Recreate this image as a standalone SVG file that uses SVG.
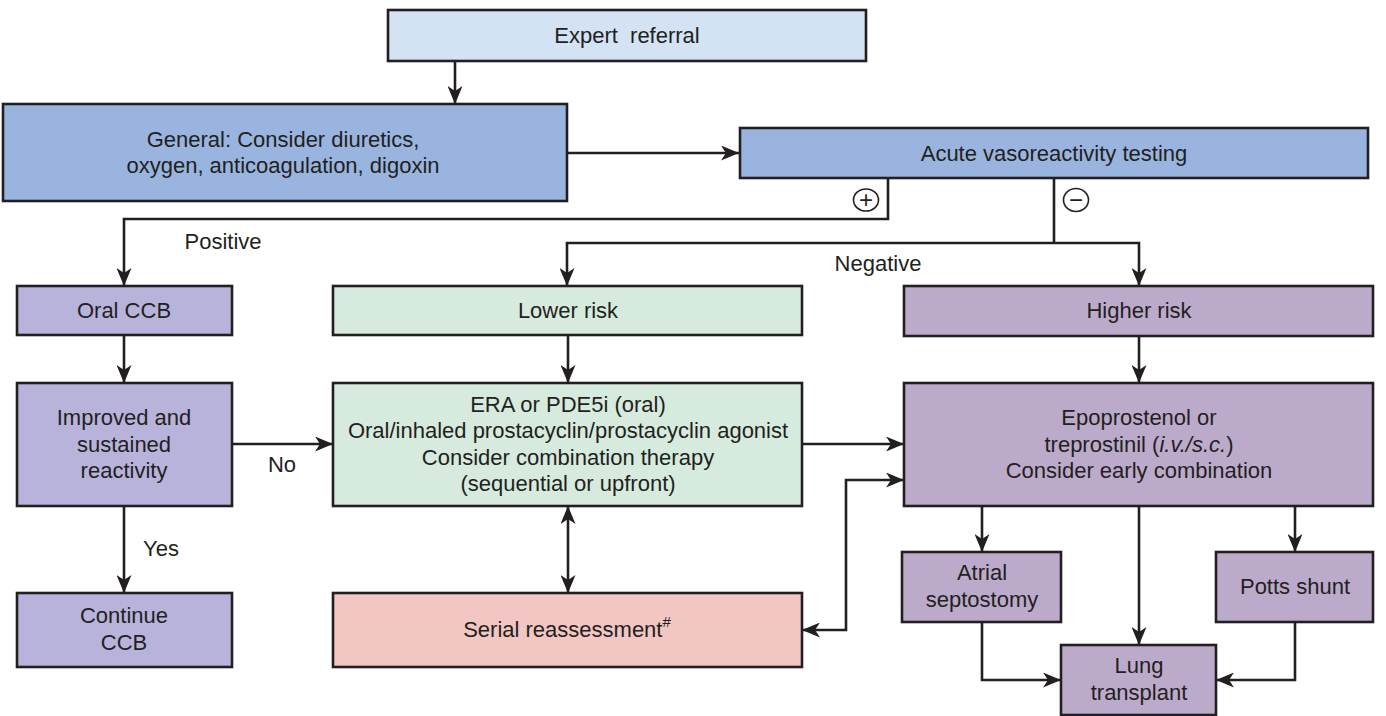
<svg xmlns="http://www.w3.org/2000/svg" width="1386" height="716" viewBox="0 0 1386 716">
<style>
text{font-family:"Liberation Sans",Arial,sans-serif;font-size:22px;fill:#231f20;text-anchor:middle}
.b{stroke:#231f20;stroke-width:2.6}
.c{fill:none;stroke:#231f20;stroke-width:2.6}
.ar{marker-end:url(#ah)}
.sg{fill:#fff;stroke:#231f20;stroke-width:1.6}
.lb{fill:#d3e3f4}.bl{fill:#99b5df}.vi{fill:#b8b3db}.gr{fill:#d6ebde}.pu{fill:#bcaacb}.pk{fill:#f2c6c2}
</style>
<defs>
<marker id="ah" viewBox="0 0 18 15" refX="18" refY="7.5" markerWidth="18" markerHeight="15" markerUnits="userSpaceOnUse" orient="auto-start-reverse">
<path d="M0,0 L18,7.5 L0,15 L5,7.5 z" fill="#231f20"/>
</marker>
</defs>
<rect width="1386" height="716" fill="#fff"/>
<g id="connectors">
<path class="c ar" d="M455,61 V104"/>
<path class="c ar" d="M567,153 H739"/>
<path class="c ar" d="M888,178 V219 H124 V286"/>
<path class="c" d="M1054,178 V243"/>
<path class="c ar" d="M1054,243 H567 V286"/>
<path class="c ar" d="M1054,243 H1139 V286"/>
<path class="c ar" d="M124,335 V383"/>
<path class="c ar" d="M232,444 H333"/>
<path class="c ar" d="M124,506 V593"/>
<path class="c ar" d="M568,335 V383"/>
<path class="c ar" d="M568,506 V593" marker-start="url(#ah)"/>
<path class="c ar" d="M802,444 H904"/>
<path class="c ar" d="M1139,336 V383"/>
<path class="c ar" d="M802,630 H846 V480 H904" marker-start="url(#ah)"/>
<path class="c ar" d="M982,506 V552"/>
<path class="c ar" d="M1139,506 V645"/>
<path class="c ar" d="M1295,506 V552"/>
<path class="c ar" d="M982,622 V680 H1061"/>
<path class="c ar" d="M1295,622 V680 H1216"/>
<ellipse class="sg" cx="866" cy="200" rx="12.5" ry="11"/>
<text x="866" y="208" style="font-size:24px">+</text>
<ellipse class="sg" cx="1076" cy="200" rx="12.5" ry="11.5"/>
<text x="1076" y="208" style="font-size:24px">−</text>
<text x="223" y="249">Positive</text>
<text x="878" y="271">Negative</text>
<text x="282" y="472">No</text>
<text x="161" y="556">Yes</text>
</g>
<g id="expert"><rect class="b lb" x="388" y="10" width="478" height="51"/><text x="627" y="43" xml:space="preserve">Expert  referral</text></g>
<g id="general"><rect class="b bl" x="3" y="104" width="564" height="97"/><text x="283" y="147">General: Consider diuretics,</text><text x="283" y="173">oxygen, anticoagulation, digoxin</text></g>
<g id="acute"><rect class="b bl" x="740" y="128" width="628" height="50"/><text x="1054" y="161">Acute vasoreactivity testing</text></g>
<g id="oralccb"><rect class="b vi" x="17" y="286" width="215" height="49"/><text x="124" y="318">Oral CCB</text></g>
<g id="lowerrisk"><rect class="b gr" x="333" y="286" width="469" height="49"/><text x="568" y="318">Lower risk</text></g>
<g id="higherrisk"><rect class="b pu" x="904" y="286" width="469" height="50"/><text x="1139" y="318">Higher risk</text></g>
<g id="improved"><rect class="b vi" x="17" y="383" width="215" height="123"/><text x="124" y="425">Improved and</text><text x="124" y="452">sustained</text><text x="124" y="478">reactivity</text></g>
<g id="era"><rect class="b gr" x="333" y="383" width="469" height="123"/><text x="568" y="412">ERA or PDE5i (oral)</text><text x="568" y="438">Oral/inhaled prostacyclin/prostacyclin agonist</text><text x="568" y="465">Consider combination therapy</text><text x="568" y="491">(sequential or upfront)</text></g>
<g id="epo"><rect class="b pu" x="904" y="383" width="469" height="123"/><text x="1139" y="425">Epoprostenol or</text><text x="1139" y="452">treprostinil (<tspan font-style="italic">i.v./s.c.</tspan>)</text><text x="1139" y="478">Consider early combination</text></g>
<g id="continue"><rect class="b vi" x="17" y="593" width="215" height="74"/><text x="124" y="623">Continue</text><text x="124" y="650">CCB</text></g>
<g id="serial"><rect class="b pk" x="333" y="593" width="469" height="74"/><text x="567" y="637">Serial reassessment<tspan dy="-10" style="font-size:15px">#</tspan></text></g>
<g id="atrial"><rect class="b pu" x="902" y="552" width="159" height="70"/><text x="982" y="580">Atrial</text><text x="982" y="607">septostomy</text></g>
<g id="potts"><rect class="b pu" x="1216" y="552" width="157" height="70"/><text x="1295" y="594">Potts shunt</text></g>
<g id="lung"><rect class="b pu" x="1061" y="645" width="155" height="70"/><text x="1139" y="673">Lung</text><text x="1139" y="700">transplant</text></g>
</svg>
